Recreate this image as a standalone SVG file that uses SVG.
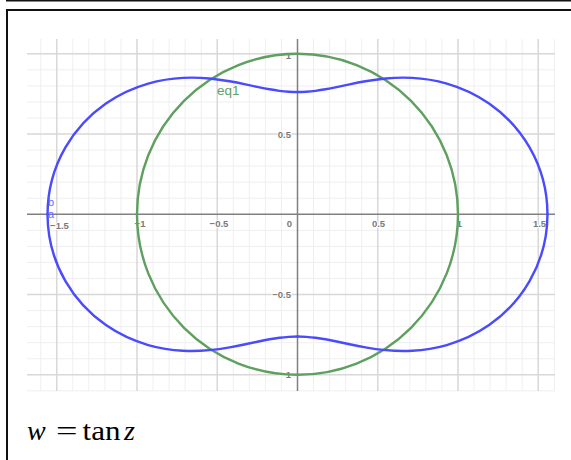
<svg xmlns="http://www.w3.org/2000/svg" xmlns:xlink="http://www.w3.org/1999/xlink" width="571" height="460" viewBox="0 0 571 460">
<style>
.minor{stroke:#efefef;stroke-width:1;fill:none}
.major{stroke:#d8d8d8;stroke-width:1.5;fill:none}
.axis{stroke:#808080;stroke-width:1.5;fill:none}
.tick{font-family:"Liberation Sans",Arial,sans-serif;font-size:9.5px;font-weight:bold;fill:#7a7a7a;stroke:#ffffff;stroke-width:2;paint-order:stroke;stroke-linejoin:round}
.xl{text-anchor:middle}
.yl{text-anchor:end}
.blue{fill:none;stroke:#4a4aff;stroke-width:0.0150;stroke-linecap:round;stroke-linejoin:round}
.green{fill:none;stroke:#5f9f5f;stroke-width:0.0150}
.lbl{font-family:"Liberation Sans",Arial,sans-serif;font-size:11px}
.math{font-family:"Liberation Serif","Times New Roman",serif;font-size:28px;fill:#000}
</style>
<rect width="571" height="460" fill="#ffffff"/>
<g id="frame" fill="none" stroke="#111">
<line x1="6" y1="0.75" x2="571" y2="0.75" stroke-width="1.5"/>
<path d="M7,460 V10 H571" stroke-width="2"/>
</g>
<g id="grid">
<path class="minor" d="M40.7,39V391M72.8,39V391M88.85,39V391M104.9,39V391M120.95,39V391M153.05,39V391M169.1,39V391M185.15,39V391M201.2,39V391M233.3,39V391M249.35,39V391M265.4,39V391M281.45,39V391M313.55,39V391M329.6,39V391M345.65,39V391M361.7,39V391M393.8,39V391M409.85,39V391M425.9,39V391M441.95,39V391M474.05,39V391M490.1,39V391M506.15,39V391M522.2,39V391M554.3,39V391M27,69.85H555M27,85.9H555M27,101.95H555M27,118H555M27,150.1H555M27,166.15H555M27,182.2H555M27,198.25H555M27,230.35H555M27,246.4H555M27,262.45H555M27,278.5H555M27,310.6H555M27,326.65H555M27,342.7H555M27,358.75H555M27,390.85H555"/>
<path class="major" d="M56.75,39V391M137,39V391M217.25,39V391M377.75,39V391M458,39V391M538.25,39V391M27,53.8H555M27,134.05H555M27,294.55H555M27,374.8H555"/>
<path class="axis" d="M27,214.3H555M297.5,39V391"/>
</g>
<g id="ticks" class="tick">
<text class="xl" x="59.5" y="228.8">−1.5</text>
<text class="xl" x="140" y="227">−1</text>
<text class="xl" x="219" y="227">−0.5</text>
<text class="yl" x="292" y="227">0</text>
<text class="xl" x="378.5" y="227">0.5</text>
<text class="xl" x="459.5" y="227">1</text>
<text class="xl" x="539.5" y="227">1.5</text>
<text class="yl" x="291" y="58.5">1</text>
<text class="yl" x="291" y="137.5">0.5</text>
<text class="yl" x="291" y="297.5">−0.5</text>
<text class="yl" x="291" y="378.3">−1</text>
</g>
<g id="curves" transform="translate(297.5,214.3) scale(160.5,-160.5)">
<circle id="eq1" class="green" cx="0" cy="0" r="1"/>
<path id="q" class="blue" d="M1.55741,0 C1.55741,0.14947 1.51457,0.29730 1.44584,0.41662 C1.37711,0.53594 1.28515,0.62687 1.19368,0.69037 C1.10221,0.75387 1.01139,0.79144 0.93023,0.81458 C0.84907,0.83772 0.77697,0.84678 0.71393,0.85004 C0.65089,0.85330 0.59665,0.85067 0.54894,0.84625 C0.50123,0.84183 0.46000,0.83551 0.42318,0.82903 C0.38636,0.82255 0.35394,0.81587 0.32442,0.80963 C0.29490,0.80339 0.26828,0.79757 0.24356,0.79240 C0.21884,0.78723 0.19601,0.78268 0.17439,0.77881 C0.15277,0.77494 0.13235,0.77174 0.11265,0.76919 C0.09295,0.76664 0.07397,0.76474 0.05531,0.76348 C0.03665,0.76222 0.01833,0.76159 0,0.76159"/>
<use href="#q" xlink:href="#q" transform="scale(-1,1)"/>
<use href="#q" xlink:href="#q" transform="scale(1,-1)"/>
<use href="#q" xlink:href="#q" transform="scale(-1,-1)"/>
</g>
<g id="labels" class="lbl">
<text x="217" y="95" fill="#64a064" font-size="13.5">eq1</text>
<text x="48" y="205.5" fill="#6a6aff">b</text>
<text x="48" y="217.8" fill="#6a6aff">a</text>
</g>
<g id="formula" class="math">
<text x="27" y="440" font-style="italic">w</text>
<text x="56" y="440" textLength="21.5" lengthAdjust="spacingAndGlyphs">=</text>
<text x="82.5" y="440" textLength="38" lengthAdjust="spacingAndGlyphs">tan</text>
<text x="124" y="440" font-style="italic">z</text>
</g>
</svg>
